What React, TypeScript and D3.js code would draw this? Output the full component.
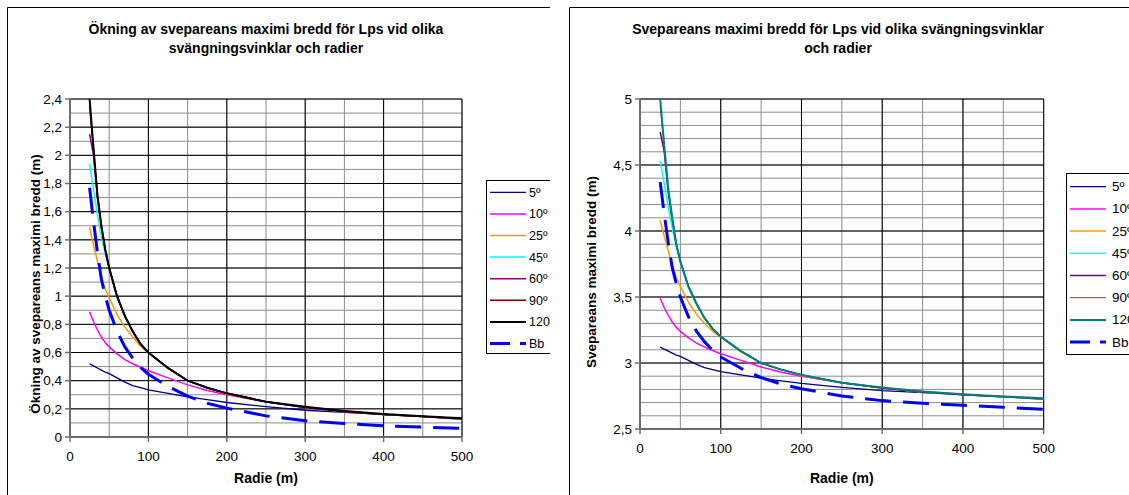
import React from "react";
import * as d3 from "d3";

// radie (m)
const radii = [25, 30, 35, 40, 45, 50, 60, 70, 80, 90, 100, 125, 150, 175, 200, 250, 300, 350, 400, 450, 500];

// ökning av svepareans maximi bredd (m)
const okning5 = [0.52, 0.505, 0.49, 0.475, 0.46, 0.45, 0.42, 0.39, 0.365, 0.35, 0.335, 0.31, 0.285, 0.265, 0.245, 0.215, 0.19, 0.175, 0.16, 0.145, 0.125];
const okning10 = [0.89, 0.82, 0.76, 0.71, 0.67, 0.64, 0.59, 0.55, 0.52, 0.495, 0.47, 0.42, 0.37, 0.33, 0.3, 0.25, 0.21, 0.185, 0.16, 0.145, 0.13];
const okning25 = [1.49, 1.36, 1.25, 1.14, 1.05, 0.99, 0.87, 0.78, 0.71, 0.645, 0.595, 0.485, 0.4, 0.35, 0.305, 0.25, 0.21, 0.18, 0.16, 0.145, 0.13];
const okning45 = [1.94, 1.76, 1.58, 1.42, 1.3, 1.19, 0.99, 0.85, 0.75, 0.66, 0.6, 0.49, 0.4, 0.35, 0.31, 0.25, 0.21, 0.18, 0.16, 0.145, 0.13];
const okning60 = [2.15, 2.0, 1.7, 1.49, 1.33, 1.2, 1.0, 0.86, 0.75, 0.66, 0.6, 0.49, 0.4, 0.35, 0.31, 0.25, 0.21, 0.18, 0.16, 0.145, 0.13];
const okning90 = [2.35, 2.04, 1.71, 1.5, 1.33, 1.2, 1.0, 0.86, 0.75, 0.66, 0.6, 0.49, 0.4, 0.35, 0.31, 0.25, 0.21, 0.18, 0.16, 0.145, 0.13];
const okning120 = [2.4, 2.05, 1.72, 1.5, 1.33, 1.2, 1.0, 0.86, 0.75, 0.66, 0.6, 0.49, 0.4, 0.35, 0.31, 0.25, 0.215, 0.185, 0.163, 0.147, 0.133];
const okningBb = [1.77, 1.53, 1.31, 1.12, 1.0, 0.9, 0.75, 0.64, 0.56, 0.495, 0.445, 0.36, 0.29, 0.24, 0.205, 0.15, 0.115, 0.095, 0.08, 0.07, 0.062];

// svepareans maximi bredd (m)
const bredd5 = [3.12, 3.105, 3.09, 3.075, 3.06, 3.05, 3.02, 2.99, 2.965, 2.95, 2.935, 2.91, 2.885, 2.865, 2.845, 2.815, 2.79, 2.775, 2.76, 2.745, 2.725];
const bredd10 = [3.49, 3.42, 3.36, 3.31, 3.27, 3.24, 3.19, 3.15, 3.12, 3.095, 3.07, 3.02, 2.97, 2.93, 2.9, 2.85, 2.81, 2.785, 2.76, 2.745, 2.73];
const bredd25 = [4.08, 3.96, 3.85, 3.74, 3.65, 3.58, 3.46, 3.37, 3.3, 3.24, 3.195, 3.085, 3.0, 2.95, 2.905, 2.85, 2.81, 2.78, 2.76, 2.745, 2.73];
const bredd45 = [4.53, 4.36, 4.18, 4.02, 3.88, 3.76, 3.57, 3.44, 3.34, 3.26, 3.2, 3.09, 3.0, 2.95, 2.91, 2.85, 2.81, 2.78, 2.76, 2.745, 2.73];
const bredd60 = [4.75, 4.6, 4.29, 4.08, 3.9, 3.77, 3.58, 3.45, 3.34, 3.26, 3.2, 3.09, 3.0, 2.95, 2.91, 2.85, 2.81, 2.78, 2.76, 2.745, 2.73];
const bredd90 = [4.95, 4.63, 4.31, 4.09, 3.9, 3.77, 3.58, 3.45, 3.34, 3.26, 3.2, 3.09, 3.0, 2.95, 2.91, 2.85, 2.81, 2.78, 2.76, 2.745, 2.73];
const bredd120 = [5.0, 4.65, 4.32, 4.1, 3.9, 3.77, 3.58, 3.45, 3.34, 3.26, 3.2, 3.09, 3.0, 2.95, 2.91, 2.85, 2.815, 2.785, 2.763, 2.747, 2.733];
const breddBb = [4.37, 4.13, 3.91, 3.72, 3.6, 3.5, 3.35, 3.24, 3.16, 3.095, 3.045, 2.96, 2.89, 2.84, 2.805, 2.75, 2.715, 2.695, 2.68, 2.665, 2.65];

const seriesLabels = ["5º", "10º", "25º", "45º", "60º", "90º", "120º", "Bb"];
const xTicks = [0, 100, 200, 300, 400, 500];

const font = "Arial, 'Liberation Sans', sans-serif";
const fmt = (v: number) => d3.format("~g")(+v.toFixed(2)).replace(".", ",");

type Style = { color: string; width: number; dash?: string };

const leftStyles: Style[] = [
  { color: "#000080", width: 1.3 },
  { color: "#FF00FF", width: 1.5 },
  { color: "#FF9900", width: 1.5 },
  { color: "#00FFFF", width: 1.5 },
  { color: "#800080", width: 1.5 },
  { color: "#800000", width: 1.5 },
  { color: "#000000", width: 2 },
  { color: "#0000FF", width: 3, dash: "26,12" },
];
const rightStyles: Style[] = [
  { color: "#000080", width: 1.3 },
  { color: "#FF00FF", width: 1.5 },
  { color: "#FF9900", width: 1.5 },
  { color: "#00FFFF", width: 1.5 },
  { color: "#800080", width: 1.5 },
  { color: "#800000", width: 0.8 },
  { color: "#008080", width: 2 },
  { color: "#0000FF", width: 3, dash: "26,12" },
];

type ChartProps = {
  id: string;
  ox: number;
  clipW: number;
  x0: number;
  x1: number;
  yTop: number;
  yBot: number;
  yDomain: [number, number];
  yMajor: number;
  yMinor: number;
  values: number[][];
  styles: Style[];
  title: string[];
  titleX: number;
  yLabel: string;
  yLabelX: number;
  yLabelY: number;
  legend: { x: number; y: number; h: number; first: number; step: number; size: number; tx: number };
};

function Chart(p: ChartProps) {
  const x = d3.scaleLinear().domain([0, 500]).range([p.x0, p.x1]);
  const y = d3.scaleLinear().domain(p.yDomain).range([p.yBot, p.yTop]);
  const line = d3
    .line<number>()
    .x((_, i) => x(radii[i]))
    .y((v) => y(v));
  const major = y.ticks(p.yMajor);
  const minor = y.ticks(p.yMinor);
  const xMinor = x.ticks(10);
  const lg = p.legend;

  return (
    <svg x={p.ox} y={0} width={p.clipW} height={495} overflow="hidden">
      <defs>
        <clipPath id={p.id}>
          <rect x={p.x0} y={p.yTop - 1} width={p.x1 - p.x0} height={p.yBot - p.yTop + 1} />
        </clipPath>
      </defs>
      {/* frame */}
      <line x1={7.5} x2={p.clipW + 5} y1={7.5} y2={7.5} stroke="#000" />
      <line x1={7.5} x2={7.5} y1={7.5} y2={500} stroke="#000" />

      {/* title */}
      <text textAnchor="middle" fontFamily={font} fontWeight="bold" fontSize={14}>
        {p.title.map((t, i) => (
          <tspan key={i} x={p.titleX} y={33.5 + i * 19.5}>
            {t}
          </tspan>
        ))}
      </text>

      {/* grid */}
      {minor.map((v) => (
        <line key={"m" + v} x1={p.x0} x2={p.x1} y1={y(v)} y2={y(v)} stroke="#8c8c8c" strokeWidth={1} />
      ))}
      {xMinor.map((v) => (
        <line key={"xm" + v} x1={x(v)} x2={x(v)} y1={p.yTop} y2={p.yBot} stroke="#8c8c8c" strokeWidth={1} />
      ))}
      {major.map((v) => (
        <line key={"M" + v} x1={p.x0} x2={p.x1} y1={y(v)} y2={y(v)} stroke="#000" strokeWidth={1} />
      ))}
      {xTicks.map((v) => (
        <line key={"xM" + v} x1={x(v)} x2={x(v)} y1={p.yTop} y2={p.yBot} stroke="#000" strokeWidth={1} />
      ))}

      {/* axes */}
      <line x1={p.x0} x2={p.x0} y1={p.yTop} y2={p.yBot} stroke="#707070" strokeWidth={1.5} />
      <line x1={p.x0} x2={p.x1} y1={p.yBot} y2={p.yBot} stroke="#707070" strokeWidth={1.5} />
      {major.map((v) => (
        <g key={"t" + v}>
          <line x1={p.x0 - 5} x2={p.x0} y1={y(v)} y2={y(v)} stroke="#707070" strokeWidth={1.5} />
          <text x={p.x0 - 8} y={y(v) + 4.8} textAnchor="end" fontFamily={font} fontSize={13.5}>
            {fmt(v)}
          </text>
        </g>
      ))}
      {xTicks.map((v) => (
        <g key={"xt" + v}>
          <line x1={x(v)} x2={x(v)} y1={p.yBot} y2={p.yBot + 5} stroke="#707070" strokeWidth={1.5} />
          <text x={x(v)} y={p.yBot + 24} textAnchor="middle" fontFamily={font} fontSize={13.5}>
            {v}
          </text>
        </g>
      ))}

      {/* series */}
      <g clipPath={`url(#${p.id})`}>
        {p.values.map((vals, i) => (
          <path
            key={i}
            d={line(vals) || ""}
            fill="none"
            stroke={p.styles[i].color}
            strokeWidth={p.styles[i].width}
            strokeDasharray={p.styles[i].dash}
            strokeLinejoin="round"
          />
        ))}
      </g>

      {/* axis titles */}
      <text
        x={(p.x0 + p.x1) / 2}
        y={483}
        textAnchor="middle"
        fontFamily={font}
        fontWeight="bold"
        fontSize={14}
      >
        Radie (m)
      </text>
      <text
        transform={`translate(${p.yLabelX},${p.yLabelY}) rotate(-90)`}
        textAnchor="middle"
        fontFamily={font}
        fontWeight="bold"
        fontSize={13.5}
      >
        {p.yLabel}
      </text>

      {/* legend */}
      <rect x={lg.x + 0.5} y={lg.y + 0.5} width={120} height={lg.h} fill="#fff" stroke="#000" />
      {seriesLabels.map((s, i) => {
        const ly = lg.first + i * lg.step;
        const st = p.styles[i];
        return (
          <g key={s}>
            <line
              x1={lg.x + 4}
              x2={lg.x + 40}
              y1={ly}
              y2={ly}
              stroke={st.color}
              strokeWidth={st.dash ? 3 : st.width}
              strokeDasharray={st.dash ? "20,10" : undefined}
            />
            <text x={lg.x + lg.tx} y={ly + 4.5} fontFamily={font} fontSize={lg.size}>
              {s}
            </text>
          </g>
        );
      })}
    </svg>
  );
}

export default function App() {
  return (
    <svg
      width={1129}
      height={495}
      style={{ position: "absolute", left: 0, top: 0, background: "#fff" }}
    >
      <rect width={1129} height={495} fill="#fff" />
      <Chart
        id="clipL"
        ox={0}
        clipW={550}
        x0={70}
        x1={462}
        yTop={99}
        yBot={437}
        yDomain={[0, 2.4]}
        yMajor={12}
        yMinor={24}
        values={[okning5, okning10, okning25, okning45, okning60, okning90, okning120, okningBb]}
        styles={leftStyles}
        title={["Ökning av svepareans maximi bredd för Lps vid olika", "svängningsvinklar och radier"]}
        titleX={266}
        yLabel="Ökning av svepareans maximi bredd (m)"
        yLabelX={40}
        yLabelY={284}
        legend={{ x: 486, y: 180, h: 173, first: 192.3, step: 21.6, size: 12.5, tx: 43 }}
      />
      <Chart
        id="clipR"
        ox={562}
        clipW={567}
        x0={640 - 562}
        x1={1043.7 - 562}
        yTop={99}
        yBot={429}
        yDomain={[2.5, 5]}
        yMajor={5}
        yMinor={25}
        values={[bredd5, bredd10, bredd25, bredd45, bredd60, bredd90, bredd120, breddBb]}
        styles={rightStyles}
        title={["Svepareans maximi bredd för Lps vid olika svängningsvinklar", "och radier"]}
        titleX={838 - 562}
        yLabel="Svepareans maximi bredd (m)"
        yLabelX={596 - 562}
        yLabelY={272}
        legend={{ x: 1066 - 562, y: 173, h: 181, first: 186.7, step: 22.2, size: 13.5, tx: 46 }}
      />
    </svg>
  );
}
